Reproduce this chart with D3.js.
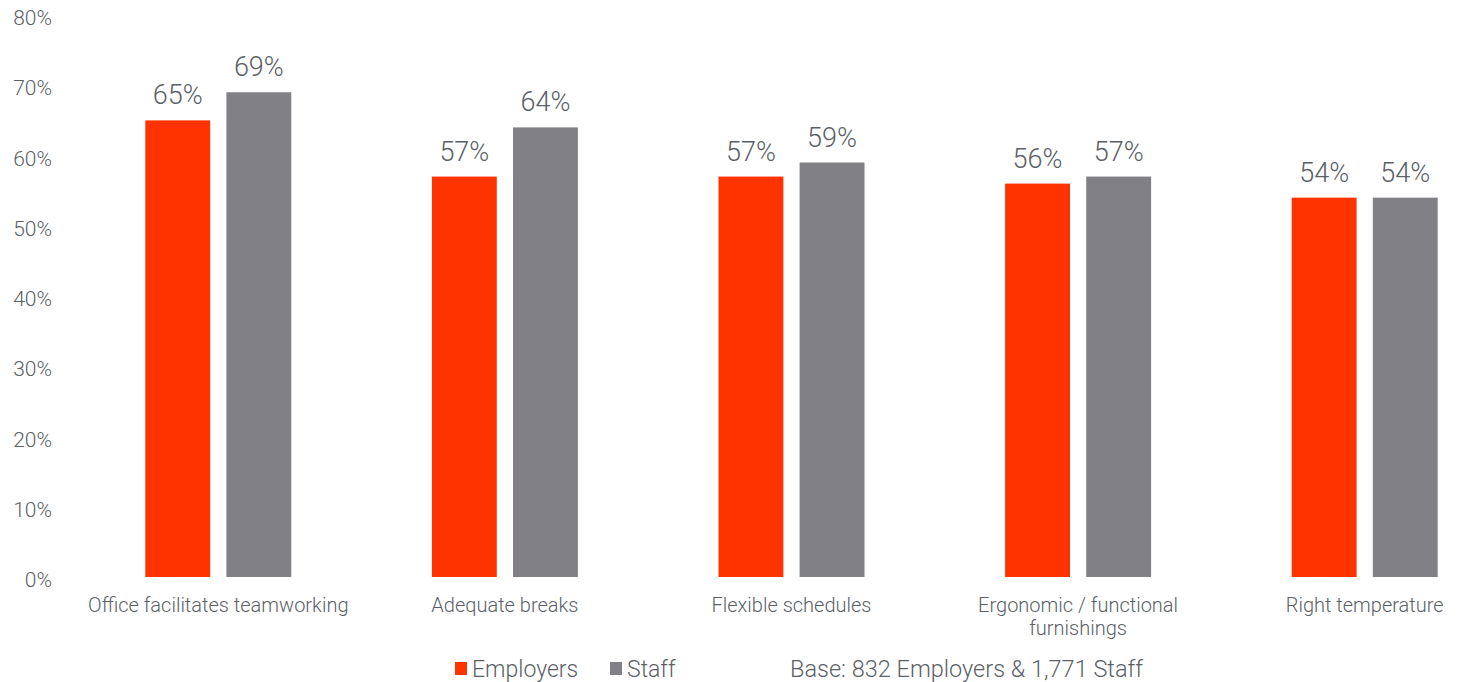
<!DOCTYPE html>
<html lang="en">
  <head>
    <meta charset="UTF-8" />
    <script src="https://d3js.org/d3.v7.min.js"></script>
    <title>Office factors</title>
    <style>
      body { margin: 0; background: #fff; }
      svg text { font-family: Roboto, "Liberation Sans", sans-serif; font-weight: 300; fill: #5b5f66; }
    </style>
  </head>
  <body>
    <svg id="chart" width="1463" height="682"></svg>
    <script>
      const categories = [
        ["Office facilitates teamworking"],
        ["Adequate breaks"],
        ["Flexible schedules"],
        ["Ergonomic / functional", "furnishings"],
        ["Right temperature"]
      ];
      const employers = [65, 57, 57, 56, 54];
      const staff = [69, 64, 59, 57, 54];
      const yTicks = [0, 10, 20, 30, 40, 50, 60, 70, 80];
      const seriesNames = ["Employers", "Staff"];
      const colors = ["#ff3300", "#818085"];
      const baseNote = "Base: 832 Employers & 1,771 Staff";

      const svg = d3.select("#chart");
      const keys = categories.map(d => d.join(" "));

      const x = d3.scaleBand().domain(keys).range([75, 1508]);
      const sub = d3.scaleBand().domain(seriesNames)
        .range([x.bandwidth() / 2 - 73, x.bandwidth() / 2 + 73])
        .paddingInner(0.2);
      const y = d3.scaleLinear().domain([0, 80]).range([577, 15]);

      // y axis labels
      svg.append("g")
        .selectAll("text")
        .data(yTicks)
        .join("text")
        .attr("x", 52)
        .attr("y", d => y(d) + 10)
        .attr("text-anchor", "end")
        .style("font-size", "21px")
        .text(d => d + "%");

      const rows = keys.map((k, i) => ({ key: k, vals: [employers[i], staff[i]] }));

      const g = svg.append("g")
        .selectAll("g")
        .data(rows)
        .join("g")
        .attr("transform", d => `translate(${x(d.key)},0)`);

      g.selectAll("rect")
        .data(d => d.vals.map((v, j) => ({ name: seriesNames[j], v, j })))
        .join("rect")
        .attr("x", d => sub(d.name))
        .attr("width", sub.bandwidth())
        .attr("y", d => y(d.v))
        .attr("height", d => y(0) - y(d.v))
        .attr("fill", d => colors[d.j]);

      g.selectAll("text.val")
        .data(d => d.vals.map((v, j) => ({ name: seriesNames[j], v })))
        .join("text")
        .attr("class", "val")
        .attr("x", d => sub(d.name) + sub.bandwidth() / 2)
        .attr("y", d => y(d.v) - 16)
        .attr("text-anchor", "middle")
        .style("font-size", "27px")
        .text(d => d.v + "%");

      // category labels
      g.append("text")
        .attr("x", x.bandwidth() / 2)
        .attr("y", 612)
        .attr("text-anchor", "middle")
        .style("font-size", "20px")
        .selectAll("tspan")
        .data((d, i) => categories[i])
        .join("tspan")
        .attr("x", x.bandwidth() / 2)
        .attr("dy", (d, i) => i === 0 ? 0 : 23)
        .text(d => d);

      // legend
      const legend = svg.append("g");
      const legendX = [455, 610];
      seriesNames.forEach((n, i) => {
        legend.append("rect")
          .attr("x", legendX[i]).attr("y", 662)
          .attr("width", 12).attr("height", 13)
          .attr("fill", colors[i]);
        legend.append("text")
          .attr("x", legendX[i] + 17).attr("y", 677)
          .style("font-size", "23px")
          .text(n);
      });
      legend.append("text")
        .attr("x", 790).attr("y", 677)
        .style("font-size", "23.5px")
        .text(baseNote);
    </script>
  </body>
</html>
